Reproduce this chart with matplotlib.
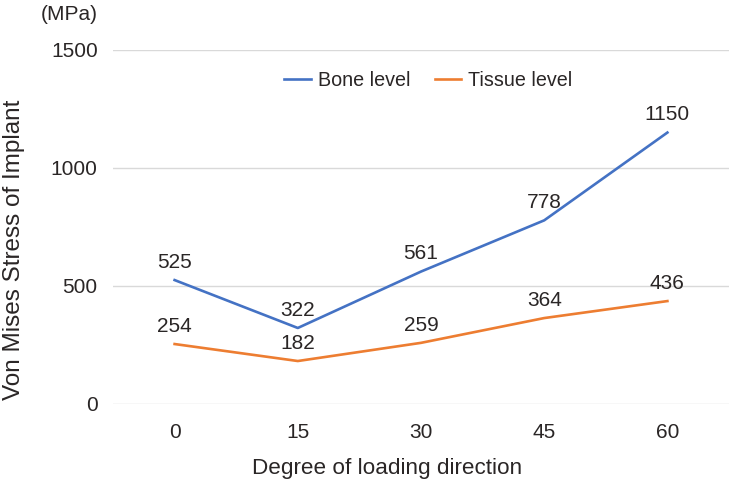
import matplotlib
matplotlib.use("Agg")
import matplotlib.pyplot as plt

categories = ["0", "15", "30", "45", "60"]
bone = [525, 322, 561, 778, 1150]
tissue = [254, 182, 259, 364, 436]
yticks = [0, 500, 1000, 1500]

plt.rcParams['font.family'] = ['Liberation Sans', 'DejaVu Sans']
txt = '#2a2626'
num_fs = 15

fig = plt.figure(figsize=(7.32, 4.83), dpi=100)
ax = fig.add_axes([113 / 732, 0.1636, 616 / 732, 0.733])
x = list(range(len(categories)))
ax.plot(x, bone, color='#4472C4', lw=1.9, label='Bone level')
ax.plot(x, tissue, color='#ED7D31', lw=1.9, label='Tissue level')
for xi, v in zip(x, bone):
    ax.annotate(str(v), (xi, v), xytext=(0, 6), textcoords='offset points',
                ha='center', va='bottom', fontsize=num_fs, color=txt)
for xi, v in zip(x, tissue):
    ax.annotate(str(v), (xi, v), xytext=(0, 6), textcoords='offset points',
                ha='center', va='bottom', fontsize=num_fs, color=txt)

ax.set_xlim(-0.5, len(categories) - 0.5)
ax.set_ylim(0, 1500)
ax.set_xticks(x)
ax.set_xticklabels(categories)
ax.set_yticks(yticks)
ax.yaxis.grid(True, color='#d9d9d9', lw=1)
ax.set_axisbelow(True)
for s in ax.spines.values():
    s.set_visible(False)
ax.tick_params(axis='both', length=0, labelsize=num_fs, labelcolor=txt)
ax.tick_params(axis='y', pad=11)
ax.tick_params(axis='x', pad=14)
ax.set_xlabel('Degree of loading direction', fontsize=16.2, color=txt, labelpad=11)
ax.xaxis.label.set_x((387 - 113) / 616)
fig.text(0.019, 1 - 250 / 483, 'Von Mises Stress of Implant', fontsize=17.5,
         color=txt, rotation=90, ha='center', va='center')
fig.text(0.134, 0.969, '(MPa)', fontsize=num_fs, color=txt, ha='right', va='center')
ax.legend(loc='center', bbox_to_anchor=(0.512, 0.915), ncol=2, frameon=False,
          fontsize=14.2, handlelength=1.35, columnspacing=1.24, handletextpad=0.36,
          labelcolor=txt)
fig.savefig('out.png', dpi=100)
